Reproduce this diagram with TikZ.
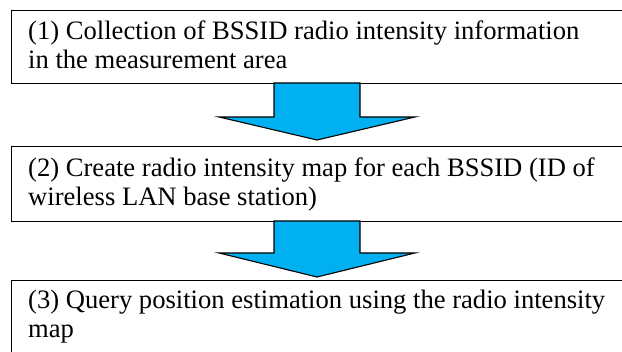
\documentclass[tikz,border=0pt]{standalone}
\usepackage{fontspec}
\setmainfont{Liberation Serif}
\definecolor{arrowblue}{HTML}{00B0F0}
\begin{document}
\begin{tikzpicture}[x=1pt,y=-1pt,
  stepbox/.style={draw, line width=1.3pt, inner sep=0pt, anchor=north west, minimum width=640pt},
  steptext/.style={anchor=north west, inner sep=0pt, align=left, font=\fontsize{26.6}{29.5}\selectfont},
  flow/.style={fill=arrowblue, draw=black, line width=1.1pt, line join=miter}]
\useasboundingbox (0,0) rectangle (622,352);
\clip (0,0) rectangle (622,352);
\node[stepbox, minimum height=73pt] (b1) at (10.5,10) {};
\node[stepbox, minimum height=75pt] (b2) at (10.5,146) {};
\node[stepbox, minimum height=100pt] (b3) at (10.5,280) {};
\node[steptext] (t1) at (28,20.5) {(1) Collection of BSSID radio intensity information\\in the measurement area};
\node[steptext] (t2) at (28,157.5) {(2) Create radio intensity map for each BSSID (ID of\\wireless LAN base station)};
\node[steptext] (t3) at (28,289.5) {(3) Query position estimation using the radio intensity\\map};
\coordinate (s1) at (317,83);
\coordinate (e1) at (317,140);
\coordinate (s2) at (317,221);
\coordinate (e2) at (317,277);
\draw[flow] (s1) ++(-43,0) -- ++(0,34) -- ++(-55,0) -- (e1) -- ++(98,-23) -- ++(-55,0) -- ++(0,-34) -- cycle;
\draw[flow] (s2) ++(-43,0) -- ++(0,32) -- ++(-55,0) -- (e2) -- ++(98,-24) -- ++(-55,0) -- ++(0,-32) -- cycle;
\end{tikzpicture}
\end{document}
